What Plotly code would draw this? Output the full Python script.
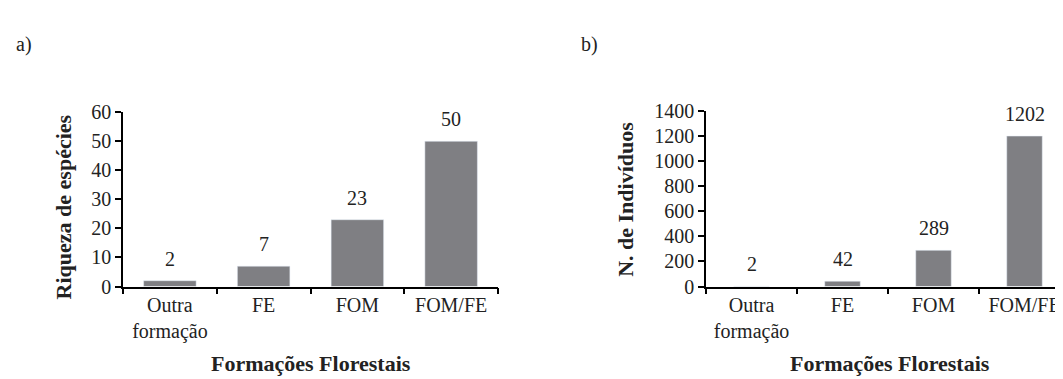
import plotly.graph_objects as go

categories = ["Outra<br>formação", "FE", "FOM", "FOM/FE"]
riqueza = [2, 7, 23, 50]
individuos = [2, 42, 289, 1202]
y1_ticks = [0, 10, 20, 30, 40, 50, 60]
y2_ticks = [0, 200, 400, 600, 800, 1000, 1200, 1400]

W, H = 1063, 379
BAR = "#7f7f83"
FONT = "Liberation Serif, Times New Roman, serif"

fig = go.Figure()
fig.add_trace(go.Bar(x=categories, y=riqueza, marker_color=BAR, width=0.56,
                     xaxis="x", yaxis="y", showlegend=False, hoverinfo="skip"))
fig.add_trace(go.Bar(x=categories, y=individuos, marker_color=BAR, width=0.39,
                     xaxis="x2", yaxis="y2", showlegend=False, hoverinfo="skip"))

ann = []
for c, v in zip(categories, riqueza):
    ann.append(dict(x=c, y=v, xref="x", yref="y", text=str(v), showarrow=False,
                    xanchor="center", yanchor="bottom", yshift=9,
                    font=dict(size=20, color="#222")))
for c, v in zip(categories, individuos):
    ann.append(dict(x=c, y=v, xref="x2", yref="y2", text=str(v), showarrow=False,
                    xanchor="center", yanchor="bottom", yshift=9,
                    font=dict(size=20, color="#222")))

def px_x(p):
    return p / W

def px_y(p):
    return 1 - p / H

def label(x, y, text, size, angle=0):
    return dict(x=px_x(x), y=px_y(y), xref="paper", yref="paper", text=text,
                textangle=angle, showarrow=False, xanchor="center", yanchor="middle",
                font=dict(size=size, color="#222"))

ann += [
    label(55, 200, "<b>Riqueza de espécies</b>", 22, -90),
    label(618, 192, "<b>N. de Indivíduos</b>", 22, -90),
    label(303, 366, "<b>Formações Florestais</b>", 22),
    label(882, 366, "<b>Formações Florestais</b>", 22),
    label(16, 27, "a)", 20),
    label(581, 27, "b)", 20),
]

xcommon = dict(type="category", tickson="boundaries", ticks="outside", ticklen=6,
               tickcolor="black", tickwidth=1.5, showline=True, linecolor="black", linewidth=1.5,
               showgrid=False, zeroline=False, tickfont=dict(size=20, color="#222"),
               range=[-0.5, 3.5])
ycommon = dict(ticks="outside", ticklen=6, tickcolor="black", tickwidth=1.5, showline=True,
               linecolor="black", linewidth=1.5, showgrid=False, zeroline=False,
               tickfont=dict(size=20, color="#222"))

fig.update_layout(
    width=W, height=H,
    margin=dict(l=0, r=0, t=0, b=0),
    paper_bgcolor="white", plot_bgcolor="white",
    font=dict(family=FONT, color="#222"),
    xaxis=dict(domain=[px_x(115), px_x(490)], anchor="y", **xcommon),
    yaxis=dict(domain=[px_y(284), px_y(99)], anchor="x", range=[0, 60], tickvals=y1_ticks, **ycommon),
    xaxis2=dict(domain=[px_x(698), px_x(1062)], anchor="y2", **xcommon),
    yaxis2=dict(domain=[px_y(284), px_y(98)], anchor="x2", range=[0, 1400], tickvals=y2_ticks, **ycommon),
    annotations=ann,
)

fig.write_html("out.html")
